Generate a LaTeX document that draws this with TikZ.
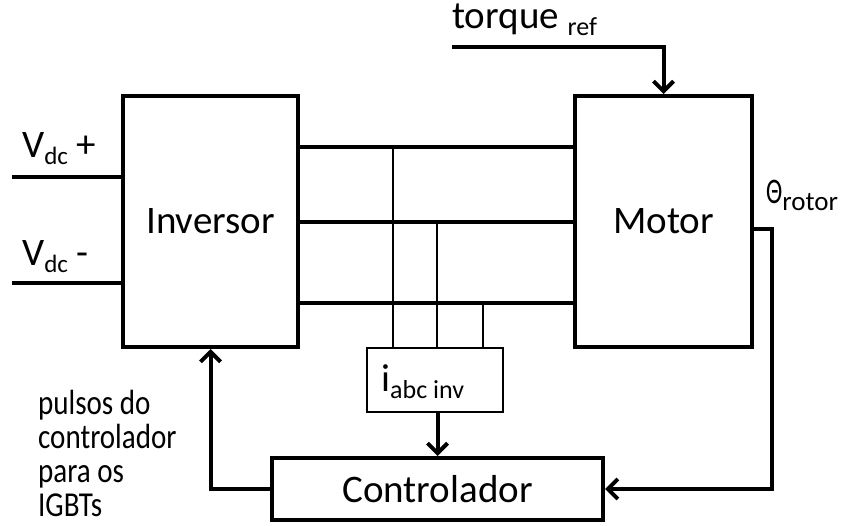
\documentclass[tikz,border=0pt]{standalone}
\usepackage{fontspec}
\setmainfont{Carlito}
\usetikzlibrary{arrows.meta}
\newcommand{\mysub}[2][25]{\raisebox{-7pt}{\fontsize{#1}{#1}\selectfont #2}}
\begin{document}
\begin{tikzpicture}[x=1pt,y=-1pt,
  blk/.style={draw, line width=4pt, inner sep=0pt, font=\fontsize{39}{42}\selectfont},
  thinblk/.style={draw, line width=1.3pt, inner sep=0pt},
  thickln/.style={line width=4pt},
  thinln/.style={line width=1.3pt},
  arr/.style={line width=4pt, -{Straight Barb[length=10pt,width=20pt]}},
  lbl/.style={inner sep=0pt, anchor=base west, font=\fontsize{39}{42}\selectfont},
]
\useasboundingbox (0,0) rectangle (845,526);
% blocks
\node[blk, minimum width=175pt, minimum height=251pt] (inv) at (210.5,221.5) {Inversor};
\node[blk, minimum width=177pt, minimum height=251pt] (mot) at (663.5,221.5) {Motor};
\node[thinblk, minimum width=136pt, minimum height=64pt] (ib) at (435,380) {};
\node[blk, minimum width=331pt, minimum height=62pt] (ctl) at (437.5,489) {Controlador};
% labels
\node[lbl] (vp) at (22,158) {V\mysub{dc} +};
\node[lbl] (vm) at (22,266) {V\mysub{dc} -};
\node[lbl] (tq) at (452,29) {torque \mysub[26]{ref}};
\node[lbl, font=\fontsize{36}{36}\selectfont] (th) at (766,204) {\scalebox{0.68}[1]{Θ}\mysub[27]{rotor}};
\node[lbl] (iabc) at (381,391) {i\mysub[26]{abc inv}};
\node[inner sep=0pt, anchor=north west, align=left, xscale=0.83, transform shape,
      font=\fontsize{35}{34}\selectfont] (pul) at (38,390)
  {pulsos do\\controlador\\para os\\IGBTs};
% coordinates
\coordinate (la) at (0,147);
\coordinate (lb) at (0,222);
\coordinate (lc) at (0,303);
\coordinate (xa) at (393,0);
\coordinate (xb) at (437,0);
\coordinate (xc) at (483,0);
\coordinate (vpl) at (12,177);
\coordinate (vml) at (12,283);
\coordinate (tqs) at (452,47);
\coordinate (fb) at (772,229);
% connectors
\draw[thickln] (vpl) -- (inv.west |- vpl);
\draw[thickln] (vml) -- (inv.west |- vml);
\draw[thickln] (inv.east |- la) -- (mot.west |- la);
\draw[thickln] (inv.east |- lb) -- (mot.west |- lb);
\draw[thickln] (inv.east |- lc) -- (mot.west |- lc);
\draw[thinln] (xa |- la) -- (xa |- ib.north);
\draw[thinln] (xb |- lb) -- (xb |- ib.north);
\draw[thinln] (xc |- lc) -- (xc |- ib.north);
\draw[arr] (tqs) -| (mot.north);
\draw[arr] (mot.east |- fb) -- (fb) |- (ctl.east);
\draw[arr] (ib.south -| ctl.north) -- (ctl.north);
\draw[arr] (ctl.west) -| (inv.south);
\end{tikzpicture}
\end{document}
